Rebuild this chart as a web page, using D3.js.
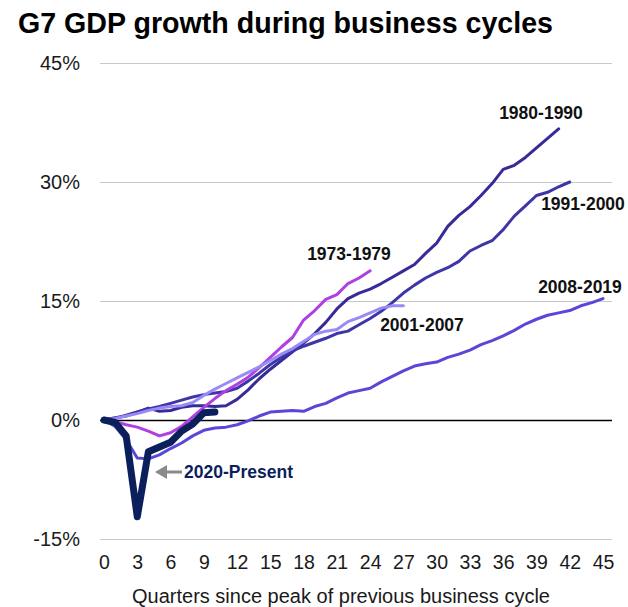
<!DOCTYPE html>
<html>
<head>
<meta charset="utf-8">
<script src="https://cdn.jsdelivr.net/npm/d3@7"></script>
<style>
  body { margin: 0; background: #fff; }
  svg { display: block; font-family: "Liberation Sans", Arial, sans-serif; }
</style>
</head>
<body>
<svg id="drawing_region"></svg>
<script>
// quarterly cumulative GDP growth (%) since previous peak
const cycle1973 = [0, -0.2, -0.6, -0.9, -1.4, -2.0, -1.6, -0.8, 0.4, 1.6, 2.7, 3.7, 4.5, 5.4, 6.6, 7.9, 9.2, 10.4, 12.6, 13.8, 15.2, 15.8, 17.2, 17.9, 18.8];
const cycle1980 = [0, 0.3, 0.5, 1.0, 1.5, 1.1, 1.2, 1.6, 1.8, 1.8, 1.7, 1.8, 2.6, 3.8, 5.2, 6.4, 7.5, 8.6, 9.7, 10.9, 12.3, 14.0, 15.3, 16.0, 16.5, 17.2, 18.0, 18.8, 19.6, 21.0, 22.3, 24.4, 25.8, 26.9, 28.3, 29.8, 31.6, 32.1, 33.1, 34.3, 35.5, 36.7];
const cycle1991 = [0, 0.2, 0.6, 1.0, 1.4, 1.7, 2.1, 2.5, 2.9, 3.2, 3.4, 3.6, 4.0, 4.9, 5.9, 7.0, 7.9, 8.7, 9.3, 9.8, 10.3, 10.9, 11.2, 12.0, 12.8, 13.7, 14.8, 16.0, 17.0, 17.9, 18.6, 19.2, 20.0, 21.3, 22.0, 22.6, 24.0, 25.7, 27.0, 28.3, 28.7, 29.4, 30.0];
const cycle2001 = [0, 0.2, 0.5, 0.8, 1.2, 1.5, 1.7, 1.8, 2.2, 3.1, 3.9, 4.6, 5.3, 6.0, 6.7, 7.5, 8.3, 9.0, 9.9, 10.8, 11.2, 11.4, 12.4, 12.9, 13.5, 14.1, 14.4, 14.4];
const cycle2008 = [0, -0.8, -2.5, -4.8, -4.9, -4.4, -3.6, -2.9, -2.0, -1.3, -1.0, -0.9, -0.6, -0.1, 0.5, 1.0, 1.1, 1.2, 1.1, 1.7, 2.1, 2.8, 3.4, 3.7, 4.0, 4.8, 5.5, 6.2, 6.8, 7.1, 7.3, 7.9, 8.3, 8.8, 9.5, 10.0, 10.6, 11.3, 12.1, 12.7, 13.2, 13.5, 13.8, 14.4, 14.8, 15.3];
const cycle2020 = [0, -0.3, -2.0, -12.2, -4.0, -3.4, -2.8, -1.4, -0.5, 0.9, 1.0];

const seriesNames = ["1980-1990", "1991-2000", "1973-1979", "2001-2007", "2008-2019", "2020-Present"];
const seriesValues = [cycle1980, cycle1991, cycle1973, cycle2001, cycle2008, cycle2020];

const xTicks = d3.range(0, 46, 3);
const yTicks = [-15, 0, 15, 30, 45];

const colors = {
    "1973-1979": "#b03fe2",
    "1980-1990": "#372b98",
    "1991-2000": "#3e36a6",
    "2001-2007": "#9a8af6",
    "2008-2019": "#5a47d8",
    "2020-Present": "#0c1f5d"
};

const width = 628, height = 607;
const margin = { top: 63, right: 25, bottom: 68, left: 104 };

const svg = d3.select('#drawing_region')
    .attr('width', width)
    .attr('height', height);

const xscale = d3.scaleLinear()
    .domain([0, 45])
    .range([margin.left, 603]);

const yscale = d3.scaleLinear()
    .domain([-15, 45])
    .range([539, margin.top]);

// title
svg.append('text')
    .attr('x', 18)
    .attr('y', 33)
    .attr('font-size', '28.6px')
    .attr('font-weight', 'bold')
    .attr('fill', '#000')
    .text('G7 GDP growth during business cycles');

// grid lines
const yaxis = d3.axisLeft(yscale)
    .tickValues(yTicks)
    .tickSize(-(612 - 100))
    .tickFormat(d => d + '%');

const yaxis_group = svg.append('g')
    .attr('transform', `translate(100, 0)`)
    .call(yaxis);
yaxis_group.select('.domain').remove();
yaxis_group.selectAll('.tick line')
    .attr('stroke', d => d === 0 ? '#000' : '#c8c8c8')
    .attr('stroke-width', d => d === 0 ? 1.6 : 1.2);
yaxis_group.selectAll('.tick text')
    .attr('x', -20)
    .attr('font-size', '20px')
    .attr('fill', '#1a1a1a')
    .attr('font-family', '"Liberation Sans", Arial, sans-serif');

// x axis labels
const xaxis = d3.axisBottom(xscale)
    .tickValues(xTicks)
    .tickSize(0)
    .tickPadding(0);

const xaxis_group = svg.append('g')
    .attr('transform', `translate(0, 555)`)
    .call(xaxis);
xaxis_group.select('.domain').remove();
xaxis_group.selectAll('.tick text')
    .attr('font-size', '19.5px')
    .attr('fill', '#1a1a1a')
    .attr('font-family', '"Liberation Sans", Arial, sans-serif');

svg.append('text')
    .attr('x', 341)
    .attr('y', 603)
    .attr('text-anchor', 'middle')
    .attr('font-size', '20px')
    .attr('fill', '#1a1a1a')
    .text('Quarters since peak of previous business cycle');

// lines
const line = d3.line()
    .x((d, i) => xscale(i))
    .y(d => yscale(d));

svg.append('g')
    .selectAll('path')
    .data(seriesNames)
    .join('path')
    .attr('d', (name, i) => line(seriesValues[i]))
    .attr('fill', 'none')
    .attr('stroke', name => colors[name])
    .attr('stroke-width', name => name === '2020-Present' ? 7 : 3)
    .attr('stroke-linejoin', 'round')
    .attr('stroke-linecap', 'round');

// series labels
const labels = [
    { name: "1980-1990", x: 541, y: 119 },
    { name: "1991-2000", x: 583, y: 210 },
    { name: "1973-1979", x: 349, y: 260 },
    { name: "2008-2019", x: 580, y: 293 },
    { name: "2001-2007", x: 422, y: 331 }
];

svg.append('g')
    .selectAll('text')
    .data(labels)
    .join('text')
    .attr('x', d => d.x)
    .attr('y', d => d.y)
    .attr('text-anchor', 'middle')
    .attr('font-size', '17.5px')
    .attr('font-weight', 'bold')
    .attr('fill', '#111')
    .text(d => d.name);

// 2020 annotation with arrow
const ann = svg.append('g');
ann.append('line')
    .attr('x1', 165).attr('y1', 472)
    .attr('x2', 182).attr('y2', 472)
    .attr('stroke', '#8a8a8a')
    .attr('stroke-width', 3);
ann.append('path')
    .attr('d', 'M155,472 L167,465 L167,479 Z')
    .attr('fill', '#8a8a8a');
ann.append('text')
    .attr('x', 184)
    .attr('y', 478)
    .attr('font-size', '17.5px')
    .attr('font-weight', 'bold')
    .attr('fill', colors["2020-Present"])
    .text('2020-Present');
</script>
</body>
</html>
